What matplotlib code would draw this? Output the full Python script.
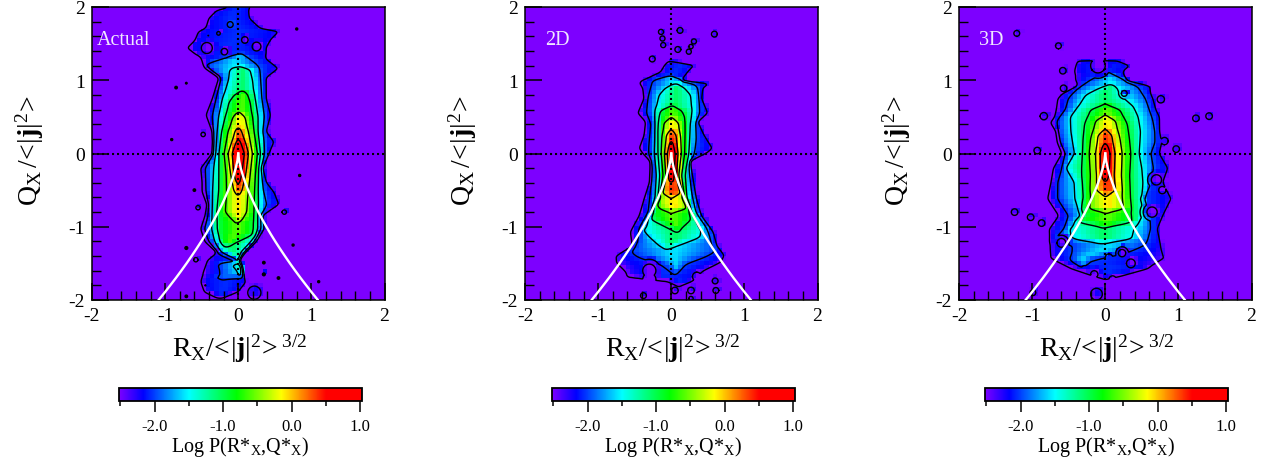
import numpy as np
import matplotlib
matplotlib.use("Agg")
import matplotlib.pyplot as plt
from matplotlib.colors import LinearSegmentedColormap, Normalize
from matplotlib.cm import ScalarMappable

plt.rcParams['font.family'] = ['Liberation Serif', 'DejaVu Serif']
plt.rcParams['mathtext.fontset'] = 'custom'
plt.rcParams['mathtext.rm'] = 'Liberation Serif'
plt.rcParams['mathtext.bf'] = 'Liberation Serif:bold'
plt.rcParams['mathtext.it'] = 'Liberation Serif:italic'

PANEL_NAMES = ["Actual", "2D", "3D"]
CONTOUR_LEVELS = [-2.4, -2.0, -1.5, -1.0, -0.5, 0.0, 0.5]
TICKS = [-2, -1, 0, 1, 2]
TICK_LABELS = ["-2", "-1", "0", "1", "2"]
CBAR_TICKS = [-2.0, -1.0, 0.0, 1.0]
CBAR_LABELS = ["-2.0", "-1.0", "0.0", "1.0"]
PEAKS = [0.95, 0.95, 0.9]

# Zero-discriminant curve: Q and |R|
CURVE_Q = [0, -.1, -.2, -.3, -.4, -.5, -.6, -.7, -.8, -.9, -1, -1.1, -1.2, -1.3, -1.4, -1.5, -1.6, -1.7, -1.8, -1.9, -2]
CURVE_R = [0, .012, .034, .063, .097, .136, .179, .225, .275, .329, .385, .444, .506, .571, .638, .707, .779, .853, .930, 1.008, 1.089]

# Contour extents: level -> rows of (Q, left R, right R)
ACTUAL = {
    -2.4: [(2.0, -.15, .17), (1.96, -.30, .15), (1.85, -.41, .16), (1.72, -.45, .30), (1.67, -.55, .57), (1.55, -.60, .45),
           (1.44, -.71, .39), (1.30, -.53, .39), (1.16, -.46, .57), (1.03, -.27, .39), (.75, -.36, .39), (.525, -.45, .45),
           (.30, -.36, .39), (.16, -.35, .50), (0, -.36, .43), (-.2, -.52, .34), (-.39, -.50, .39), (-.525, -.50, .50),
           (-.7, -.43, .57), (-.85, -.46, .34), (-1.03, -.52, .36), (-1.21, -.46, .25), (-1.35, -.30, .10), (-1.44, -.43, .02),
           (-1.62, -.50, .07), (-1.76, -.52, .11), (-1.9, -.47, 0), (-1.98, -.3, -.2)],
    -2.0: [(1.35, .05, .05), (1.22, -.45, .25), (1.16, -.42, .28), (1.03, -.24, .30), (.75, -.30, .32), (.5, -.35, .35),
           (.3, -.34, .33), (0, -.34, .35), (-.2, -.45, .31), (-.5, -.44, .33), (-.7, -.41, .38), (-.85, -.41, .30),
           (-1.03, -.46, .30), (-1.2, -.40, .20), (-1.35, -.28, .08), (-1.44, -.05, .02), (-1.5, 0, 0)],
    -1.5: [(1.18, .03, .03), (1.15, -.11, .16), (1.0, -.14, .20), (.75, -.22, .23), (.5, -.27, .27), (.3, -.29, .27),
           (0, -.31, .30), (-.2, -.33, .28), (-.5, -.35, .27), (-.85, -.36, .27), (-1.03, -.36, .27), (-1.2, -.32, .22),
           (-1.35, -.25, .05), (-1.45, -.15, .03), (-1.6, 0, .05), (-1.7, .03, .03)],
    -1.0: [(.85, .08, .08), (.8, -.05, .13), (.7, -.13, .17), (.5, -.18, .20), (.3, -.23, .22), (0, -.27, .27),
           (-.3, -.27, .24), (-.5, -.27, .23), (-.8, -.30, .22), (-1.03, -.30, .22), (-1.12, -.28, .20), (-1.2, -.26, 0), (-1.27, -.2, -.15)],
    -0.5: [(.557, 0, 0), (.5, -.07, .09), (.3, -.14, .14), (0, -.19, .19), (-.3, -.16, .16), (-.5, -.16, .14), (-.8, -.18, .12),
           (-.9, -.08, .05), (-.94, 0, 0)],
    0.0: [(.35, 0, 0), (.3, -.04, .04), (.15, -.09, .10), (0, -.14, .14), (-.3, -.10, .10), (-.5, -.06, .05), (-.57, 0, 0)],
    0.5: [(.2, 0, 0), (.1, -.05, .05), (0, -.09, .09), (-.2, -.07, .06), (-.35, -.04, .03), (-.43, 0, 0)],
}
TWO_D = {
    -2.4: [(1.27, -.04, -.04), (1.21, -.10, .33), (1.12, -.15, .24), (1.0, -.42, .15), (.96, -.45, .56), (.89, -.40, .44),
           (.75, -.38, .42), (.55, -.47, .51), (.43, -.36, .37), (.25, -.38, .46), (.07, -.45, .58), (0, -.40, .50),
           (-.11, -.29, .26), (-.39, -.30, .31), (-.62, -.38, .35), (-.85, -.45, .42), (-1.07, -.57, .58), (-1.26, -.54, .63),
           (-1.39, -.77, .74), (-1.5, -.77, .69), (-1.62, -.65, .44), (-1.7, -.6, .36), (-1.76, -.05, .28), (-1.83, .1, .1)],
    -2.0: [(1.04, 0, 0), (1.0, -.25, .20), (.9, -.28, .36), (.75, -.32, .38), (.55, -.33, .38), (.4, -.27, .33), (.2, -.29, .33),
           (0, -.30, .30), (-.2, -.26, .24), (-.5, -.28, .27), (-.8, -.30, .33), (-1.0, -.42, .47), (-1.2, -.46, .55),
           (-1.35, -.55, .60), (-1.42, -.45, .45), (-1.5, -.15, .20), (-1.6, 0, .10), (-1.65, .05, .05)],
    -1.5: [(.945, .08, .08), (.9, -.07, .17), (.8, -.17, .27), (.6, -.22, .29), (.4, -.22, .26), (.2, -.22, .25), (0, -.23, .24),
           (-.3, -.20, .19), (-.6, -.22, .21), (-.8, -.27, .27), (-1.0, -.35, .38), (-1.05, -.40, .42), (-1.15, -.30, .40),
           (-1.25, -.17, .10), (-1.3, -.08, -.08)],
    -1.0: [(.64, 0, 0), (.59, -.15, .14), (.5, -.18, .19), (.3, -.19, .19), (0, -.18, .18), (-.3, -.16, .14), (-.6, -.17, .17),
           (-.8, -.29, .27), (-.91, -.29, .28), (-1.03, 0, .12), (-1.07, .1, .1)],
    -0.5: [(.48, 0, 0), (.42, -.10, .10), (.2, -.13, .13), (0, -.14, .14), (-.3, -.11, .10), (-.6, -.17, .17), (-.7, -.21, .24),
           (-.77, -.15, .20), (-.8, 0, 0)],
    0.0: [(.32, 0, 0), (.25, -.07, .07), (0, -.09, .09), (-.3, -.07, .07), (-.55, -.13, .14), (-.6, 0, 0)],
    0.5: [(.18, 0, 0), (.1, -.03, .03), (0, -.06, .06), (-.25, -.05, .05), (-.37, -.03, .03), (-.39, 0, 0)],
}
THREE_D = {
    -2.4: [(1.28, -.38, .15), (1.2, -.41, .35), (1.12, -.43, .25), (1.0, -.42, .30), (.93, -.38, .62), (.82, -.6, .63),
           (.75, -.66, .66), (.6, -.68, .70), (.5, -.70, .75), (.42, -.76, .75), (.3, -.68, .75), (.15, -.66, .78), (0, -.6, .75),
           (-.2, -.72, .87), (-.39, -.75, .80), (-.62, -.80, .92), (-.85, -.65, .80), (-1.03, -.78, .72), (-1.16, -.77, .75),
           (-1.3, -.77, .78), (-1.44, -.76, .83), (-1.58, -.48, .60), (-1.69, -.15, .20), (-1.73, 0, 0)],
    -2.0: [(1.1, .03, .03), (1.0, -.20, .28), (.9, -.37, .45), (.75, -.50, .55), (.6, -.54, .60), (.45, -.66, .65), (.3, -.65, .68),
           (.15, -.62, .68), (0, -.55, .62), (-.2, -.58, .65), (-.39, -.65, .62), (-.62, -.65, .50), (-.85, -.50, .60),
           (-1.03, -.55, .62), (-1.2, -.72, .57), (-1.25, -.45, .55), (-1.35, -.45, .30), (-1.45, -.48, -.20), (-1.5, -.40, -.25), (-1.55, -.32, -.32)],
    -1.5: [(.93, .12, .12), (.9, -.05, .15), (.8, -.27, .20), (.65, -.37, .38), (.5, -.48, .45), (.3, -.47, .48), (0, -.42, .46),
           (-.2, -.55, .50), (-.39, -.42, .52), (-.62, -.41, .52), (-.85, -.32, .51), (-1.03, -.50, .40), (-1.15, -.47, .37),
           (-1.18, -.40, .35), (-1.22, -.1, -.1)],
    -1.0: [(.66, 0, 0), (.6, -.20, .20), (.4, -.28, .30), (.2, -.30, .33), (0, -.31, .35), (-.3, -.32, .33), (-.6, -.30, .34),
           (-.8, -.35, .36), (-.95, -.40, .38), (-.99, -.1, .1), (-1.0, 0, 0)],
    -0.5: [(.51, 0, 0), (.45, -.13, .14), (.2, -.20, .20), (0, -.22, .23), (-.3, -.20, .22), (-.6, -.21, .24), (-.77, -.22, .26), (-.8, 0, 0)],
    0.0: [(.32, 0, 0), (.25, -.10, .09), (0, -.13, .13), (-.3, -.12, .12), (-.5, -.13, .15), (-.58, 0, 0)],
    0.5: [(.14, 0, 0), (.08, -.04, .04), (0, -.07, .07), (-.2, -.07, .06), (-.35, -.03, .03), (-.38, 0, 0)],
}

# Small closed features: (R, Q, radius, level, height).
# height > 0 raises a bump above level, height < 0 digs a hole below it.
ACTUAL_SPOTS = [
    (-.43, 1.44, .075, -2.4, -.15), (-.19, 1.39, .045, -2.4, -.15), (.25, 1.46, .06, -2.4, -.15), (-.11, 1.76, .07, -2.1, .15),
    (.09, 1.55, .045, -2.4, -.15), (.42, 1.91, .05, -2.4, -.2), (-.27, 1.64, .025, -2.4, -.2),
    (-.41, 1.61, .012, -2.4, .5), (-.85, .90, .018, -2.4, .5), (-.71, .96, .012, -2.4, .5), (-.91, .19, .015, -2.4, .5),
    (.80, 1.70, .015, -2.4, .5), (-.48, .26, .03, -2.4, .15), (-.6, -.5, .018, -2.4, .5), (-.55, -.74, .03, -2.4, .15),
    (.84, -.30, .015, -2.4, .5), (.63, -.8, .03, -2.4, .15), (.75, -1.25, .015, -2.4, .5), (-.71, -1.29, .02, -2.4, .5),
    (-.58, -1.45, .03, -2.4, .15), (.35, -1.49, .018, -2.4, .5), (.35, -1.65, .02, -2.4, .5), (.55, -1.7, .018, -2.4, .5),
    (1.1, -1.75, .015, -2.4, .5), (-.45, -1.8, .02, -2.4, .5), (-.71, -1.95, .018, -2.4, .5), (.22, -1.9, .09, -2.4, .2),
]
TWO_D_SPOTS = [
    (-.14, 1.66, .035, -2.4, .12), (-.12, 1.57, .035, -2.4, .12), (-.11, 1.48, .035, -2.4, .12), (.12, 1.68, .04, -2.4, .12),
    (.59, 1.63, .04, -2.4, .12), (.09, 1.42, .04, -2.4, .12), (.31, 1.53, .035, -2.4, .12), (.27, 1.46, .03, -2.4, .12),
    (.24, 1.39, .035, -2.4, .12), (-.26, 1.29, .04, -2.4, .12), (-.38, -1.94, .04, -2.4, .12), (.05, -1.87, .045, -2.4, .12),
    (.27, -1.87, .045, -2.4, .12), (.6, -1.74, .04, -2.4, .12), (.61, -1.87, .04, -2.4, .12), (.27, -1.98, .03, -2.4, .12),
    (-.30, -1.60, .09, -2.4, -.2), (-.30, -1.72, .09, -2.4, -.2), (.35, -1.68, .06, -2.4, -.2), (-.55, -1.6, .02, -2.0, -.3),
]
THREE_D_SPOTS = [
    (-1.21, 1.64, .04, -2.4, .12), (-.64, 1.47, .04, -2.4, .12), (-.58, 1.13, .045, -2.4, .12), (-.57, .89, .045, -2.4, .12),
    (-.84, .51, .05, -2.4, .12), (.76, .74, .05, -2.4, .12), (1.24, .48, .045, -2.4, .12), (1.42, .51, .045, -2.4, .12),
    (-.93, .04, .045, -2.4, .12), (.81, .17, .05, -2.4, .12), (.97, .06, .045, -2.4, .12), (-1.24, -.8, .045, -2.4, .12),
    (-1.02, -.87, .045, -2.4, .12), (-.87, -.95, .045, -2.4, .12), (-.99, -1.9, .04, -2.4, .12), (-.12, -1.92, .08, -2.4, .2),
    (.85, -1.67, .04, -2.4, -.2), (.64, -.8, .07, -2.4, -.2), (.78, -.5, .05, -2.4, -.2), (.23, -1.36, .05, -2.4, -.2),
    (.35, -1.5, .06, -2.4, -.2), (.05, -1.42, .05, -2.0, -.2), (-.28, -1.58, .05, -2.0, -.2), (-.68, -1.36, .09, -2.0, -.2),
    (-.6, -1.22, .06, -2.4, -.2), (.26, .82, .04, -2.0, -.2), (-.1, 1.2, .1, -2.4, -.2), (.7, -.36, .07, -2.4, -.2),
    (-.15, -1.65, .05, -2.4, -.2), (.1, -1.72, .05, -2.4, -.2),
]
TABLES = [ACTUAL, TWO_D, THREE_D]
SPOTS = [ACTUAL_SPOTS, TWO_D_SPOTS, THREE_D_SPOTS]

# colour stops of the bar
STOP_VALUES = [-2.52, -2.17, -1.5, -0.8, -0.15, 0.5, 1.02]
STOP_COLOURS = ['#7d00ff', '#0000ff', '#00ffff', '#00ff00', '#ffff00', '#ff0000', '#ff0000']

W, H = 1266, 460
VMIN, VMAX = STOP_VALUES[0], STOP_VALUES[-1]
cmap = LinearSegmentedColormap.from_list(
    'prob', [((v - VMIN) / (VMAX - VMIN), c) for v, c in zip(STOP_VALUES, STOP_COLOURS)], N=512)
norm = Normalize(VMIN, VMAX)

GRID = np.linspace(-2, 2, 401)


def smooth(F, n=5):
    k = np.ones(n) / n
    pad = n // 2
    for _ in range(2):
        P = np.pad(F, pad, mode='edge')
        P = np.apply_along_axis(lambda a: np.convolve(a, k, mode='valid'), 0, P)
        P = np.apply_along_axis(lambda a: np.convolve(a, k, mode='valid'), 1, P)
        F = P
    return F


def build_field(table, peak, spots):
    F = np.full((GRID.size, GRID.size), -3.0)
    levels = sorted(table)
    for i, q in enumerate(GRID):
        lefts, rights, vals = [], [], []
        for lev in levels:
            rows = np.array(table[lev], float)
            qs, ls, rs = rows[:, 0], rows[:, 1], rows[:, 2]
            if q > qs.max() or q < qs.min():
                continue
            l = np.interp(q, qs[::-1], ls[::-1])
            r = np.interp(q, qs[::-1], rs[::-1])
            if lefts:
                l = max(l, lefts[-1] + 1e-4)
                r = min(r, rights[-1] - 1e-4)
                if l >= r:
                    m = 0.5 * (lefts[-1] + rights[-1])
                    l, r = m - 1e-5, m + 1e-5
            lefts.append(l); rights.append(r); vals.append(lev)
        if not lefts:
            continue
        if vals[-1] == levels[-1]:
            top = peak
        elif vals[-1] == levels[0]:
            top = -2.05
        else:
            top = vals[-1] + 0.45
        mid = 0.5 * (lefts[-1] + rights[-1])
        # quick rise of the rim just inside the outermost contour
        if len(lefts) > 1:
            rim_l = lefts[0] + 0.3 * (lefts[1] - lefts[0])
            rim_r = rights[0] + 0.3 * (rights[1] - rights[0])
        else:
            rim_l = lefts[0] + min(.03, (mid - lefts[0]) / 2)
            rim_r = rights[0] - min(.03, (rights[0] - mid) / 2)
        xs = [lefts[0] - .03, lefts[0], rim_l] + lefts[1:] + [mid] + rights[:0:-1] + [rim_r, rights[0], rights[0] + .03]
        vs = [-3.0, -2.4, -2.18] + vals[1:] + [top] + vals[:0:-1] + [-2.18, -2.4, -3.0]
        xs = np.maximum.accumulate(np.array(xs) + np.arange(len(xs)) * 1e-7)
        F[i] = np.interp(GRID, xs, vs)
    F = smooth(F)
    RR, QQ = np.meshgrid(GRID, GRID)
    for r0, q0, rad, lev, h in spots:
        bump = lev + h * (1 - ((RR - r0) ** 2 + (QQ - q0) ** 2) / rad ** 2)
        F = np.maximum(F, bump) if h > 0 else np.minimum(F, bump)
    return F


def fx(px):
    return px / W


def fy(py):
    return 1 - py / H


AX_LEFT = [92, 525, 959]
CB_LEFT = [119, 552, 985]
fig = plt.figure(figsize=(W / 100, H / 100), dpi=100)

for k in range(3):
    x0 = AX_LEFT[k]
    ax = fig.add_axes([fx(x0), fy(301), 292.5 / W, 293 / H])
    F = build_field(TABLES[k], PEAKS[k], SPOTS[k])
    s = 6
    ax.imshow(F[::s, ::s], origin='lower', extent=(-2, 2, -2, 2), cmap=cmap, norm=norm,
              interpolation='nearest', aspect='auto', zorder=1)
    ax.contour(GRID, GRID, F, levels=CONTOUR_LEVELS, colors='black', linewidths=1.0, linestyles='solid', zorder=2)
    ax.plot(CURVE_R, CURVE_Q, color='white', lw=1.7, zorder=4, solid_joinstyle='round')
    ax.plot(-np.array(CURVE_R), CURVE_Q, color='white', lw=1.7, zorder=4, solid_joinstyle='round')
    ax.axhline(0, color='black', lw=1.5, ls=(0, (1, 1.4)), zorder=3)
    ax.axvline(0, color='black', lw=1.5, ls=(0, (1, 1.4)), zorder=3)
    ax.set_xlim(-2, 2); ax.set_ylim(-2, 2)
    ax.set_xticks(TICKS); ax.set_yticks(TICKS)
    ax.set_xticklabels(TICK_LABELS); ax.set_yticklabels(TICK_LABELS)
    minors = np.arange(-2, 2.01, 0.2)
    ax.set_xticks(minors, minor=True); ax.set_yticks(minors, minor=True)
    ax.tick_params(which='major', direction='in', length=12, width=1.1, labelsize=14, pad=5, top=False, right=False)
    ax.tick_params(which='minor', direction='in', length=6.5, width=1.0, top=False, right=False)
    ax.tick_params(axis='x', which='major', pad=5)
    for sp in ax.spines.values():
        sp.set_linewidth(1.1)
    label_x = -1.93 if k == 0 else -1.72
    ax.text(label_x, 1.50, PANEL_NAMES[k], color='#f0e6ff', fontsize=14.5, zorder=5)

    fig.text(fx(x0 + 148), fy(349), r'$\mathrm{R_X/\!<\!|}\mathbf{j}\mathrm{|^2\!>^{3/2}}$',
             fontsize=20, ha='center', va='center')
    fig.text(fx(x0 - 62), fy(151), r'$\mathrm{Q_X\,/\!<\!|}\mathbf{j}\mathrm{|^2\!>}$',
             fontsize=20, rotation=90, ha='center', va='center')

    cax = fig.add_axes([fx(CB_LEFT[k]), fy(402), 242.5 / W, 13 / H])
    cb = fig.colorbar(ScalarMappable(norm=norm, cmap=cmap), cax=cax, orientation='horizontal')
    cb.set_ticks(CBAR_TICKS, labels=CBAR_LABELS)
    cax.set_xticks([-2.5, -1.5, -0.5, 0.5], minor=True)
    cax.tick_params(which='major', direction='out', length=8, width=1.1, labelsize=12, pad=4)
    cax.tick_params(which='minor', direction='out', length=3.5, width=1.1)
    cb.outline.set_linewidth(1.3)
    fig.text(fx(CB_LEFT[k] + 121), fy(447), r'Log P(R*$_{\mathrm{X}}$,Q*$_{\mathrm{X}}$)',
             fontsize=14.5, ha='center', va='center')

fig.savefig('out.png', dpi=100)
